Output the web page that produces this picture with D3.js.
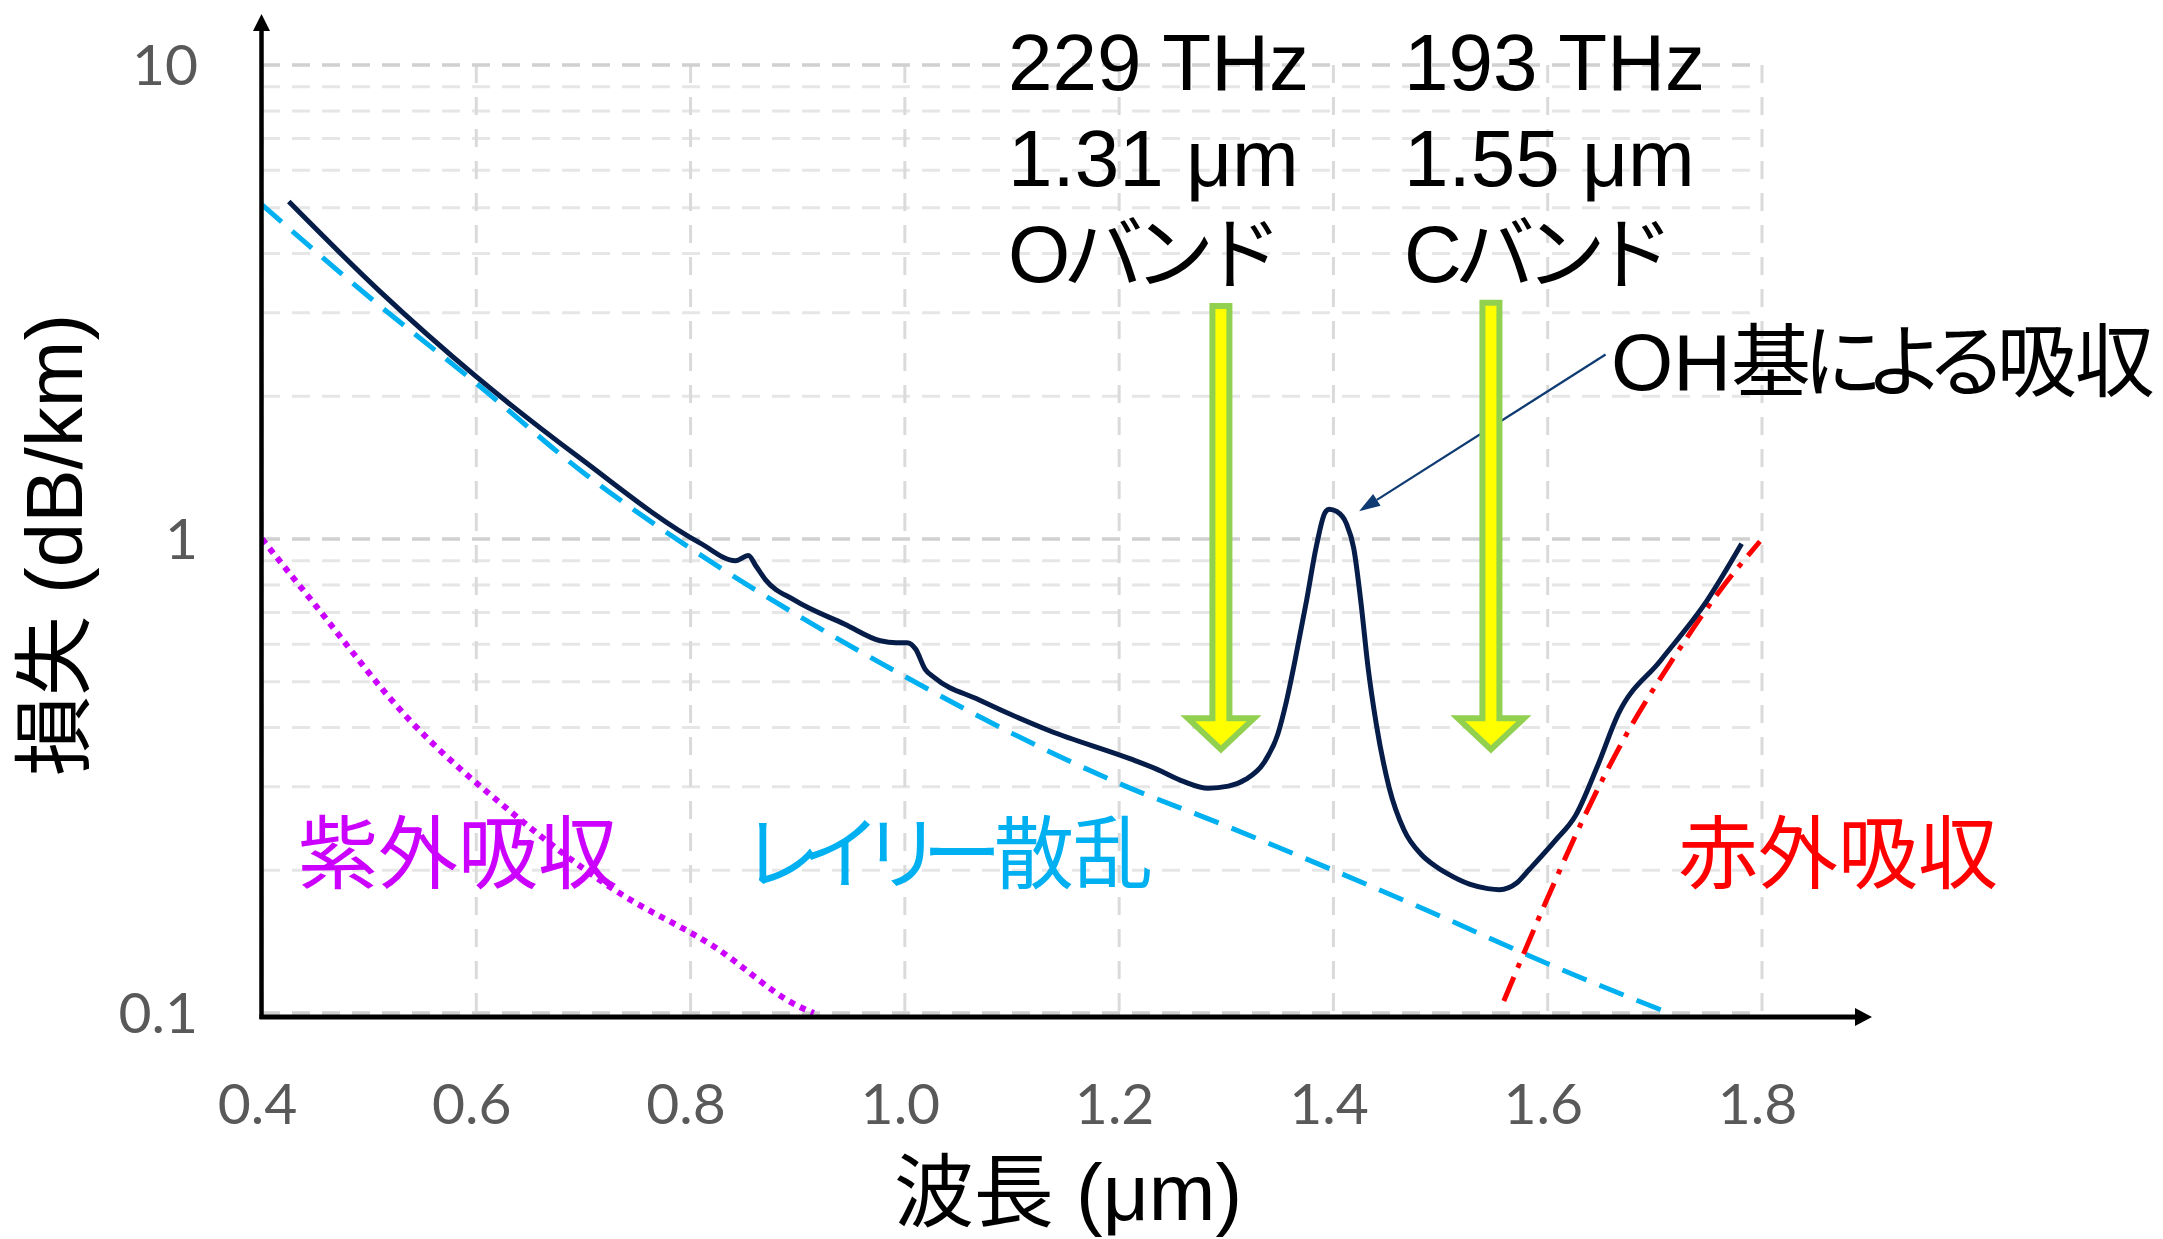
<!DOCTYPE html>
<html lang="ja">
<head>
<meta charset="UTF-8">
<script src="https://d3js.org/d3.v7.min.js"></script>
<style>
  body { margin: 0; background: #fff; }
  text { font-family: "Liberation Sans", "Noto Sans CJK JP", sans-serif; }
</style>
</head>
<body>
<svg width="2163" height="1239" id="chart"></svg>
<script>
// wavelength (um) and loss (dB/km)
const totalX = [0.425, 0.51, 0.6, 0.697, 0.809, 0.842, 0.854, 0.861, 0.870, 0.897, 0.944, 0.977, 0.992, 1.002, 1.010, 1.019, 1.027, 1.069, 1.135, 1.21, 1.235, 1.26, 1.283, 1.302, 1.318, 1.335, 1.348, 1.356, 1.364, 1.375, 1.384, 1.392, 1.396, 1.403, 1.412, 1.419, 1.426, 1.432, 1.440, 1.452, 1.466, 1.482, 1.494, 1.506, 1.527, 1.544, 1.555, 1.571, 1.583, 1.607, 1.626, 1.646, 1.666, 1.705, 1.749, 1.781];
const totalY = [5.15, 3.33, 2.20, 1.48, 0.98, 0.90, 0.923, 0.877, 0.820, 0.743, 0.661, 0.610, 0.604, 0.604, 0.586, 0.531, 0.511, 0.458, 0.394, 0.344, 0.327, 0.308, 0.298, 0.301, 0.311, 0.337, 0.387, 0.453, 0.552, 0.743, 0.964, 1.135, 1.156, 1.143, 1.079, 0.955, 0.724, 0.543, 0.407, 0.299, 0.243, 0.216, 0.205, 0.197, 0.187, 0.183, 0.182, 0.188, 0.201, 0.231, 0.261, 0.330, 0.428, 0.553, 0.743, 0.977];

const rayleighX = [0.4, 0.5, 0.6, 0.7, 0.8, 0.9, 1.0, 1.1, 1.2, 1.3, 1.4, 1.5, 1.6, 1.713];
const rayleighY = [5.07, 3.24, 2.13, 1.38, 0.955, 0.69, 0.513, 0.389, 0.305, 0.248, 0.20, 0.160, 0.127, 0.1];

const uvX = [0.4, 0.446, 0.536, 0.632, 0.727, 0.822, 0.902, 0.915];
const uvY = [1.0, 0.743, 0.419, 0.266, 0.183, 0.138, 0.103, 0.1];

const irX = [1.559, 1.598, 1.635, 1.674, 1.717, 1.761, 1.798];
const irY = [0.106, 0.171, 0.262, 0.389, 0.559, 0.780, 0.988];

const xTicks = [0.4, 0.6, 0.8, 1.0, 1.2, 1.4, 1.6, 1.8];
const yTicks = [0.1, 1, 10];
const yMinor = [0.2, 0.3, 0.4, 0.5, 0.6, 0.7, 0.8, 0.9, 2, 3, 4, 5, 6, 7, 8, 9];

// band markers
const bandX = [1.295, 1.547];
const bandTop = [3.1, 3.15];
const bandTip = 0.36;
const bandLines = [["229 THz", "1.31 μm", "Oバンド"], ["193 THz", "1.55 μm", "Cバンド"]];
const bandTextX = [1008, 1404];

// OH pointer (from, to)
const ohFrom = [1.654, 2.45];
const ohTo = [1.424, 1.145];

const svg = d3.select("#chart");

const x = d3.scaleLinear().domain([0.4, 1.8]).range([262, 1762]);
const y = d3.scaleLog().domain([0.1, 10]).range([1013, 65]);

// text with per-character kerning (the original uses proportional kana)
function label(str, px, py, color, kern) {
    const t = svg.append("text").attr("x", px).attr("y", py)
        .style("font-size", "80px").attr("fill", color);
    t.selectAll("tspan").data(Array.from(str)).enter().append("tspan")
        .attr("dx", (d, i) => (kern && kern[i]) || 0)
        .text(d => d);
    return t;
}

// grid
const grid = svg.append("g");
grid.selectAll(".minor").data(yMinor).enter().append("line")
    .attr("x1", x(0.4)).attr("x2", x(1.8))
    .attr("y1", d => y(d)).attr("y2", d => y(d))
    .attr("stroke", "#e6e6e6").attr("stroke-width", 3)
    .attr("stroke-dasharray", "18,12");
grid.selectAll(".vert").data(xTicks).enter().append("line")
    .attr("x1", d => x(d)).attr("x2", d => x(d))
    .attr("y1", y(10)).attr("y2", y(0.1))
    .attr("stroke", "#dadada").attr("stroke-width", 3)
    .attr("stroke-dasharray", "18,14");
grid.selectAll(".major").data(yTicks).enter().append("line")
    .attr("x1", x(0.4)).attr("x2", x(1.8))
    .attr("y1", d => y(d)).attr("y2", d => y(d))
    .attr("stroke", "#d0d0d0").attr("stroke-width", 3.5)
    .attr("stroke-dasharray", "18,12");

// tick labels
const xAxis = svg.append("g")
    .attr("transform", "translate(-5,1124)")
    .call(d3.axisBottom(x).tickValues(xTicks).tickSize(0).tickFormat(d3.format(".1f")));
xAxis.select(".domain").remove();
xAxis.selectAll("text").attr("y", 0).attr("dy", 0)
    .style("font-family", "Lato, 'Open Sans', sans-serif").style("font-size", "57px").attr("fill", "#595959");

const yAxis = svg.append("g")
    .attr("transform", "translate(198,0)")
    .call(d3.axisLeft(y).tickValues(yTicks).tickSize(0).tickPadding(0).tickFormat(d3.format("~g")));
yAxis.select(".domain").remove();
yAxis.selectAll("text").attr("dy", "0.35em")
    .style("font-family", "Lato, 'Open Sans', sans-serif").style("font-size", "57px").attr("fill", "#595959");

// curves
const line = d3.line().x(d => x(d[0])).y(d => y(d[1])).curve(d3.curveMonotoneX);
const zip = (a, b) => a.map((v, i) => [v, b[i]]);

svg.append("path").datum(zip(rayleighX, rayleighY)).attr("d", line)
    .attr("fill", "none").attr("stroke", "#00b0f0").attr("stroke-width", 5)
    .attr("stroke-dasharray", "26,14");
svg.append("path").datum(zip(uvX, uvY)).attr("d", line)
    .attr("fill", "none").attr("stroke", "#cc00ff").attr("stroke-width", 6)
    .attr("stroke-dasharray", "6,6");
svg.append("path").datum(zip(irX, irY)).attr("d", line)
    .attr("fill", "none").attr("stroke", "#ff0000").attr("stroke-width", 5)
    .attr("stroke-dasharray", "26,10,5,10");
svg.append("path").datum(zip(totalX, totalY)).attr("d", line)
    .attr("fill", "none").attr("stroke", "#071d49").attr("stroke-width", 5)
    .attr("stroke-linejoin", "round");

// axes with arrows
const ax0 = x(0.4) - 0.5, ay0 = y(0.1) + 4;
svg.append("line").attr("x1", ax0).attr("x2", ax0).attr("y1", ay0 + 2).attr("y2", 30)
    .attr("stroke", "#000").attr("stroke-width", 4.5);
svg.append("path").attr("d", `M${ax0},14L${ax0 + 8.5},31L${ax0 - 8.5},31Z`).attr("fill", "#000");
svg.append("line").attr("x1", ax0 - 2).attr("x2", 1856).attr("y1", ay0).attr("y2", ay0)
    .attr("stroke", "#000").attr("stroke-width", 5);
svg.append("path").attr("d", `M1872,${ay0}L1855,${ay0 - 9}L1855,${ay0 + 9}Z`).attr("fill", "#000");

// OH pointer
const fx = x(ohFrom[0]), fy = y(ohFrom[1]), tx = x(ohTo[0]), ty = y(ohTo[1]);
const ang = Math.atan2(ty - fy, tx - fx);
const hl = 21, hw = 7;
const bx = tx - hl * Math.cos(ang), by = ty - hl * Math.sin(ang);
svg.append("line").attr("x1", fx).attr("y1", fy).attr("x2", bx).attr("y2", by)
    .attr("stroke", "#0f3b73").attr("stroke-width", 2.2);
svg.append("path")
    .attr("d", `M${tx},${ty}L${bx + hw * Math.sin(ang)},${by - hw * Math.cos(ang)}L${bx - hw * Math.sin(ang)},${by + hw * Math.cos(ang)}Z`)
    .attr("fill", "#0f3b73");

// band arrows
bandX.forEach((b, i) => {
    const cx = x(b), top = y(bandTop[i]), tip = y(bandTip);
    const sw = 8.5, hw2 = 33, hl2 = 31;
    const pts = [[cx - sw, top], [cx + sw, top], [cx + sw, tip - hl2], [cx + hw2, tip - hl2],
                 [cx, tip], [cx - hw2, tip - hl2], [cx - sw, tip - hl2]];
    svg.append("path").attr("d", "M" + pts.join("L") + "Z")
        .attr("fill", "#ffff00").attr("stroke", "#92d050").attr("stroke-width", 6);
});

// band labels
bandLines.forEach((lines, i) => {
    lines.forEach((t, j) => {
        label(t, bandTextX[i], 90 + j * 96, "#000", j === 2 ? [0, -7, -13, -12] : null);
    });
});

label("OH基による吸収", 1611, 390, "#000", [0, 0, 0, -8, -18, -16, -10, -2]);

// region labels
label("紫外吸収", 298, 882, "#cc00ff");
label("レイリー散乱", 741, 882, "#00b0f0", [0, -20, -19, -20, -8, -1]);
label("赤外吸収", 1678, 882, "#ff0000");

// axis titles
svg.append("text").attr("x", 1068).attr("y", 1220).style("font-size", "80px")
    .style("text-anchor", "middle").attr("fill", "#000").text("波長 (μm)");
svg.append("text").attr("transform", "translate(82,545) rotate(-90)")
    .style("font-size", "80px").style("text-anchor", "middle")
    .attr("fill", "#000").text("損失 (dB/km)");
</script>
</body>
</html>
